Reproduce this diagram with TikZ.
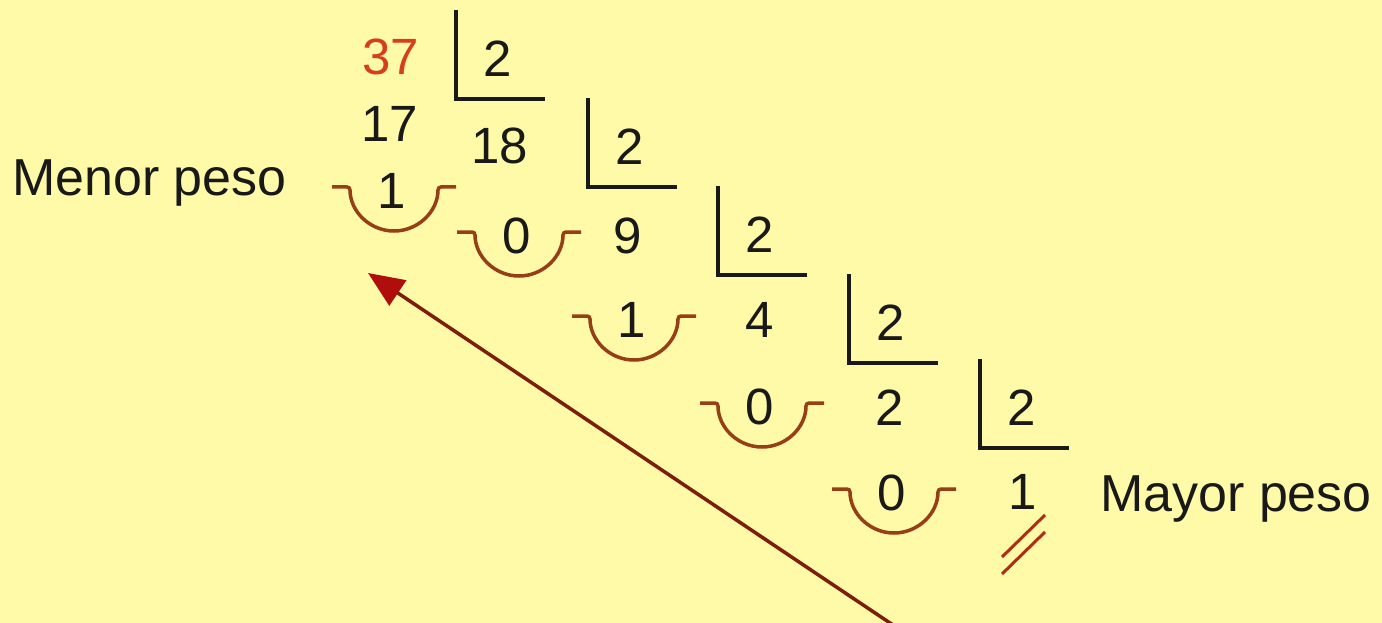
\documentclass[tikz,border=0pt]{standalone}
\usepackage{fontspec}
\setmainfont{Liberation Sans}
\usetikzlibrary{arrows.meta}

\definecolor{PaperBack}{RGB}{255,250,168}
\definecolor{DividendRed}{RGB}{214,62,32}
\definecolor{SmileBrown}{RGB}{150,62,22}
\definecolor{ArrowLine}{RGB}{125,30,12}
\definecolor{ArrowHead}{RGB}{175,14,12}
\definecolor{SlashRed}{RGB}{175,45,20}

\tikzset{
    num/.style={font=\fontsize{51}{60}\selectfont, inner sep=0pt, text=black!90},
    label/.style={font=\fontsize{52}{60}\selectfont, inner sep=0pt, text=black!90},
    bracket/.style={line width=4pt, black!90},
    smile/.style={line width=3.5pt, SmileBrown, rounded corners=3pt},
}

\begin{document}
\begin{tikzpicture}[x=1pt, y=1pt]

% ── Fondo ───────────────────────────────────────────────────
\fill[PaperBack] (0,0) rectangle (1382,-623);
\useasboundingbox (0,0) rectangle (1382,-623);

% ── Dividendos, cocientes y divisores ───────────────────────
\node[num, text=DividendRed] (n37) at (391,-57)  {37};
\node[num] (d1) at (498,-59)  {2};
\node[num] (n17) at (390,-124) {17};
\node[num] (q1) at (500,-146) {18};
\node[num] (d2) at (630,-147) {2};
\node[num] (q2) at (628,-236) {9};
\node[num] (d3) at (760,-235) {2};
\node[num] (q3) at (760,-320) {4};
\node[num] (d4) at (891,-323) {2};
\node[num] (q4) at (890,-408) {2};
\node[num] (d5) at (1022,-408) {2};
\node[num] (q5) at (1023,-492) {1};

% ── Restos ──────────────────────────────────────────────────
\node[num] (r1) at (392,-191) {1};
\node[num] (r2) at (517,-236) {0};
\node[num] (r3) at (632,-320) {1};
\node[num] (r4) at (760,-407) {0};
\node[num] (r5) at (892,-493) {0};

% ── Ángulos de la división ──────────────────────────────────
\draw[bracket] ([shift={(-42,49)}]d1.center) -- ++(0,-89) -- ++(89,0);
\draw[bracket] ([shift={(-42,49)}]d2.center) -- ++(0,-89) -- ++(89,0);
\draw[bracket] ([shift={(-42,49)}]d3.center) -- ++(0,-89) -- ++(89,0);
\draw[bracket] ([shift={(-42,49)}]d4.center) -- ++(0,-89) -- ++(89,0);
\draw[bracket] ([shift={(-42,49)}]d5.center) -- ++(0,-89) -- ++(89,0);

% ── Arcos bajo los restos ───────────────────────────────────
\draw[smile] ([shift={(-60,4)}]r1.center) -- ++(18,0)
    arc[start angle=180, end angle=360, radius=44] -- ++(18,0);
\draw[smile] ([shift={(-60,4)}]r2.center) -- ++(18,0)
    arc[start angle=180, end angle=360, radius=44] -- ++(18,0);
\draw[smile] ([shift={(-60,4)}]r3.center) -- ++(18,0)
    arc[start angle=180, end angle=360, radius=44] -- ++(18,0);
\draw[smile] ([shift={(-60,4)}]r4.center) -- ++(18,0)
    arc[start angle=180, end angle=360, radius=44] -- ++(18,0);
\draw[smile] ([shift={(-60,4)}]r5.center) -- ++(18,0)
    arc[start angle=180, end angle=360, radius=44] -- ++(18,0);

% ── Fin de la división ──────────────────────────────────────
\draw[line width=3pt, SlashRed]
    ([shift={(-21,-65)}]q5.center) -- ([shift={(22,-23)}]q5.center);
\draw[line width=3pt, SlashRed]
    ([shift={(-21,-82)}]q5.center) -- ([shift={(22,-40)}]q5.center);

% ── Etiquetas ───────────────────────────────────────────────
\node[label, anchor=base west] (menor) at (12,-195) {Menor peso};
\node[label, anchor=base west] (mayor) at (1100,-511) {Mayor peso};

% ── Flecha de lectura ───────────────────────────────────────
\coordinate (tail) at (893,-625);
\coordinate (tip)  at (368,-273);
\draw[line width=3.5pt, ArrowLine,
      -{Triangle[length=36pt, width=30pt, color=ArrowHead, fill=ArrowHead]}]
    (tail) -- (tip);

\end{tikzpicture}
\end{document}
